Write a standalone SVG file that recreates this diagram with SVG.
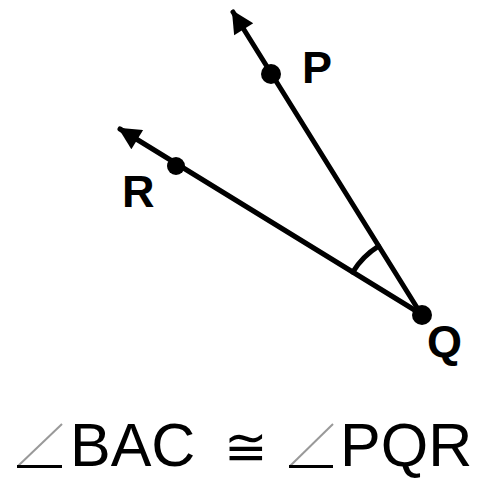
<svg xmlns="http://www.w3.org/2000/svg" width="497" height="479" viewBox="0 0 497 479">
<defs>
<style>
.ray{stroke:#000;stroke-width:5;fill:none;stroke-linecap:round}
.lbl{font-family:"Liberation Sans",Arial,sans-serif;font-weight:bold;font-size:45px;fill:#000}
.eq{font-family:"Liberation Sans",Arial,sans-serif;font-size:61px;fill:#000}
.ang{stroke:#999;stroke-width:2;fill:none}
.angb{stroke:#000;stroke-width:3;fill:none}
</style>
<marker id="ah" viewBox="0 0 10 10" refX="9" refY="5" markerWidth="5.5" markerHeight="4.5" orient="auto" markerUnits="strokeWidth">
<path d="M0,0 L10,5 L0,10 z" fill="#000"/>
</marker>
</defs>
<rect width="497" height="479" fill="#fff"/>
<g id="connectors">
<line class="ray" x1="421" y1="314" x2="233" y2="12" marker-end="url(#ah)"/>
<line class="ray" x1="421" y1="314" x2="120" y2="129" marker-end="url(#ah)"/>
<path class="ray" d="M352.8 272.1 A80 80 0 0 1 378.6 246.2"/>
</g>
<g id="P"><circle cx="271" cy="74" r="10" fill="#000"/><text class="lbl" x="302" y="83">P</text></g>
<g id="R"><circle cx="176" cy="166" r="9" fill="#000"/><text class="lbl" x="122" y="207">R</text></g>
<g id="Q"><circle cx="422" cy="315" r="10" fill="#000"/><text class="lbl" x="427" y="357">Q</text></g>
<g id="caption">
<path class="ang" d="M62 424 L18 466"/><path class="angb" d="M17 466.5 L62 466.5"/>
<text class="eq" x="70" y="466">BAC</text>
<text x="224" y="465" style="font-family:'DejaVu Sans',sans-serif;font-size:52px">≅</text>
<path class="ang" d="M333 424 L290 466"/><path class="angb" d="M289 466.5 L333 466.5"/>
<text class="eq" x="340" y="466">PQR</text>
</g>
</svg>
